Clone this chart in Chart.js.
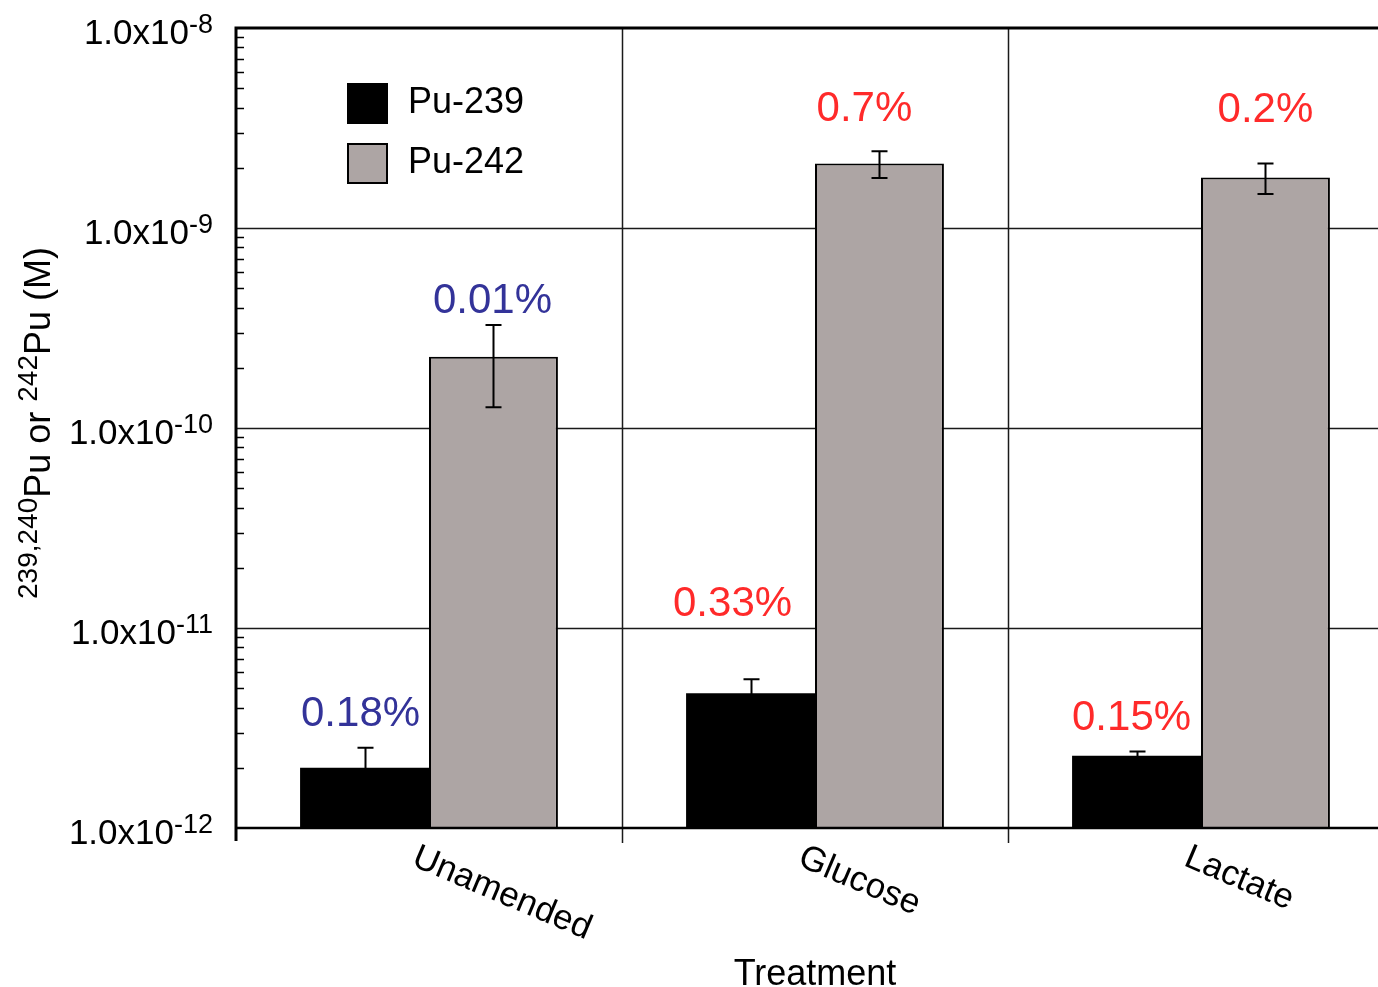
<!DOCTYPE html>
<html>
<head>
<meta charset="utf-8">
<script src="https://cdn.jsdelivr.net/npm/chart.js@4.4.1/dist/chart.umd.min.js"></script>
<style>
  html, body { margin: 0; padding: 0; background: #fff; overflow: hidden; }
  #wrap { width: 1400px; height: 987px; }
</style>
</head>
<body>
<div id="wrap"><canvas id="c" width="1400" height="987"></canvas></div>
<script>
// Treatments and measured Pu concentrations (M)
const categories = ['Unamended', 'Glucose', 'Lactate'];
const pu239 = [2.0e-12, 4.72e-12, 2.30e-12];
const pu239Err = [0.52e-12, 0.83e-12, 0.11e-12];
const pu242 = [2.27e-10, 2.10e-9, 1.79e-9];
const pu242Err = [1.0e-10, 0.32e-9, 0.31e-9];
// Fraction of the added Pu found in solution
const pu239Pct = ['0.18%', '0.33%', '0.15%'];
const pu242Pct = ['0.01%', '0.7%', '0.2%'];
// Decade ticks of the log axis
const yTickValues = [1e-12, 1e-11, 1e-10, 1e-9, 1e-8];
const yTickExponents = ['-12', '-11', '-10', '-9', '-8'];

const FONT = '"Liberation Sans", Arial, Helvetica, sans-serif';
const GRAY = '#ada5a4';
const BLUE = '#333399';
const RED = '#ff2a2a';

// label styling: colour per treatment, pixel offsets from the error-bar tip
const pctStyle = {
  colors: [BLUE, RED, RED],
  lift239: [22, 63, 22],
  lift242: [12, 30, 42],
  dx239: [-4, -18, -5],
  dx242: [-1, -15, 0]
};

function f(size) { return size + 'px ' + FONT; }

const decor = {
  id: 'decor',
  beforeDatasetsDraw(chart) {
    const { ctx, chartArea: a, scales: { x, y } } = chart;
    ctx.save();
    ctx.strokeStyle = '#1a1a1a';
    ctx.lineWidth = 1.5;
    // horizontal decade grid lines
    yTickValues.forEach(v => {
      const py = Math.round(y.getPixelForValue(v)) + 0.5;
      if (py > a.top + 2 && py < a.bottom - 2) {
        ctx.beginPath(); ctx.moveTo(a.left, py); ctx.lineTo(a.right, py); ctx.stroke();
      }
    });
    // vertical separators between treatments
    for (let i = 1; i < categories.length; i++) {
      const px = Math.round((x.getPixelForValue(i - 1) + x.getPixelForValue(i)) / 2) + 0.5;
      ctx.beginPath(); ctx.moveTo(px, a.top); ctx.lineTo(px, a.bottom + 15); ctx.stroke();
    }
    ctx.restore();
  },
  afterDatasetsDraw(chart) {
    const { ctx, chartArea: a, scales: { x, y } } = chart;
    ctx.save();

    // error bars
    const errs = [pu239Err, pu242Err];
    const vals = [pu239, pu242];
    ctx.strokeStyle = '#000';
    ctx.lineWidth = 2;
    const tips = [[], []];
    [0, 1].forEach(d => {
      const meta = chart.getDatasetMeta(d);
      meta.data.forEach((bar, i) => {
        const cx = Math.round(bar.x) + 0.5;
        const top = y.getPixelForValue(vals[d][i] + errs[d][i]);
        const bot = y.getPixelForValue(vals[d][i] - errs[d][i]);
        tips[d][i] = top;
        ctx.beginPath();
        ctx.moveTo(cx, top); ctx.lineTo(cx, bot);
        ctx.moveTo(cx - 8, top); ctx.lineTo(cx + 8, top);
        ctx.moveTo(cx - 8, bot); ctx.lineTo(cx + 8, bot);
        ctx.stroke();
      });
    });

    // frame: left axis, top and bottom lines
    ctx.strokeStyle = '#000';
    ctx.lineWidth = 3;
    ctx.beginPath();
    ctx.moveTo(a.left, a.bottom + 13); ctx.lineTo(a.left, a.top - 1.5);
    ctx.moveTo(a.left - 1.5, a.top); ctx.lineTo(a.right, a.top);
    ctx.stroke();
    ctx.lineWidth = 2.5;
    ctx.beginPath();
    ctx.moveTo(a.left, a.bottom); ctx.lineTo(a.right, a.bottom);
    ctx.stroke();

    // minor log ticks inside the left axis
    ctx.lineWidth = 1.5;
    for (let e = -12; e < -8; e++) {
      for (let m = 2; m <= 9; m++) {
        const py = Math.round(y.getPixelForValue(m * Math.pow(10, e))) + 0.5;
        ctx.beginPath(); ctx.moveTo(a.left, py); ctx.lineTo(a.left + 8, py); ctx.stroke();
      }
    }

    // y tick labels: 1.0x10 with superscript exponent
    ctx.fillStyle = '#000';
    ctx.textBaseline = 'alphabetic';
    yTickValues.forEach((v, i) => {
      const py = y.getPixelForValue(v);
      ctx.font = f(27);
      const ew = ctx.measureText(yTickExponents[i]).width;
      const right = 213;
      ctx.textAlign = 'left';
      ctx.fillText(yTickExponents[i], right - ew, py + 5);
      ctx.font = f(35);
      ctx.textAlign = 'right';
      ctx.fillText('1.0x10', right - ew, py + 16);
    });

    // rotated category labels
    ctx.font = f(35);
    ctx.textAlign = 'left';
    ctx.textBaseline = 'top';
    categories.forEach((c, i) => {
      const cx = x.getPixelForValue(i);
      ctx.save();
      ctx.translate(cx - 8, 840);
      ctx.rotate(23 * Math.PI / 180);
      ctx.fillText(c, 0, 0);
      ctx.restore();
    });

    // x axis title
    ctx.font = f(36);
    ctx.textAlign = 'center';
    ctx.textBaseline = 'alphabetic';
    ctx.fillText('Treatment', (x.getPixelForValue(0) + x.getPixelForValue(2)) / 2, 985);

    // y axis title with isotope superscripts
    const parts = [
      ['239,240', true], ['Pu or ', false], ['242', true], ['Pu (M)', false]
    ];
    const F = 36, S = 28;
    let total = 0;
    parts.forEach(p => { ctx.font = f(p[1] ? S : F); total += ctx.measureText(p[0]).width; });
    ctx.save();
    ctx.translate(50, 423);
    ctx.rotate(-Math.PI / 2);
    ctx.textAlign = 'left';
    let tx = -total / 2;
    parts.forEach(p => {
      ctx.font = f(p[1] ? S : F);
      ctx.fillText(p[0], tx, p[1] ? -13 : 0);
      tx += ctx.measureText(p[0]).width;
    });
    ctx.restore();

    // legend
    const lx = 347, ly = [83, 143];
    ctx.fillStyle = '#000';
    ctx.fillRect(lx, ly[0], 41, 41);
    ctx.fillStyle = GRAY;
    ctx.fillRect(lx, ly[1], 41, 41);
    ctx.strokeStyle = '#000';
    ctx.lineWidth = 2;
    ctx.strokeRect(lx + 1, ly[1] + 1, 39, 39);
    ctx.fillStyle = '#000';
    ctx.font = f(36);
    ctx.textAlign = 'left';
    ctx.textBaseline = 'middle';
    chart.data.datasets.forEach((ds, i) => ctx.fillText(ds.label, 408, ly[i] + 20));

    // percentage labels above the bars
    ctx.font = f(42);
    ctx.textAlign = 'center';
    ctx.textBaseline = 'alphabetic';
    const metas = [chart.getDatasetMeta(0), chart.getDatasetMeta(1)];
    categories.forEach((c, i) => {
      ctx.fillStyle = pctStyle.colors[i];
      const b0 = metas[0].data[i], b1 = metas[1].data[i];
      ctx.fillText(pu239Pct[i], b0.x + pctStyle.dx239[i], tips[0][i] - pctStyle.lift239[i]);
      ctx.fillText(pu242Pct[i], b1.x + pctStyle.dx242[i], tips[1][i] - pctStyle.lift242[i]);
    });

    ctx.restore();
  }
};

new Chart(document.getElementById('c'), {
  type: 'bar',
  data: {
    labels: categories,
    datasets: [
      {
        label: 'Pu-239',
        data: pu239,
        backgroundColor: '#000',
        borderColor: '#000',
        borderWidth: 0,
        categoryPercentage: 0.668,
        barPercentage: 1.0
      },
      {
        label: 'Pu-242',
        data: pu242,
        backgroundColor: GRAY,
        borderColor: '#000',
        borderWidth: 2,
        borderSkipped: 'bottom',
        categoryPercentage: 0.668,
        barPercentage: 1.0
      }
    ]
  },
  options: {
    responsive: false,
    animation: false,
    events: [],
    layout: { padding: { left: 236, top: 28, right: 6, bottom: 159 } },
    plugins: { legend: { display: false }, tooltip: { enabled: false } },
    scales: {
      x: { display: false, offset: true },
      y: { type: 'logarithmic', display: false, min: 1e-12, max: 1e-8 }
    }
  },
  plugins: [decor]
});
</script>
</body>
</html>
